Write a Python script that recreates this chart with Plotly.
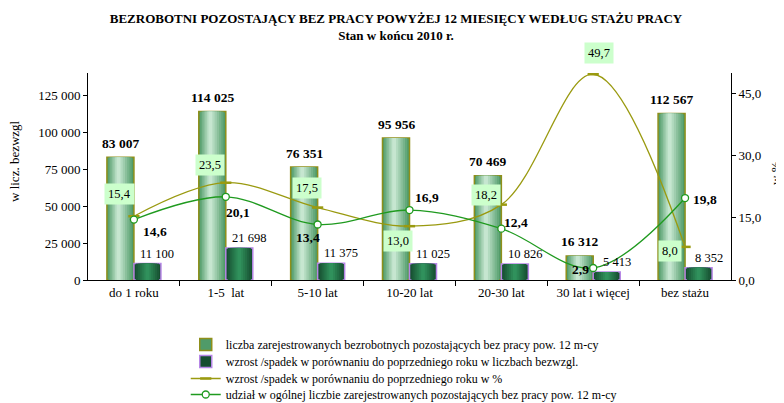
import plotly.graph_objects as go

categories = ["do 1 roku", "1-5  lat", "5-10 lat", "10-20 lat", "20-30 lat", "30 lat i więcej", "bez stażu"]
liczba = [83007, 114025, 76351, 95956, 70469, 16312, 112567]
wzrost_abs = [11100, 21698, 11375, 11025, 10826, 5413, 8352]
wzrost_pct = [15.4, 23.5, 17.5, 13.0, 18.2, 49.7, 8.0]
udzial = [14.6, 20.1, 13.4, 16.9, 12.4, 2.9, 19.8]

left_ticks = [0, 25000, 50000, 75000, 100000, 125000]
left_ticktext = ["0", "25 000", "50 000", "75 000", "100 000", "125 000"]
right_ticks = [0, 15, 30, 45]
right_ticktext = ["0,0", "15,0", "30,0", "45,0"]

names = [
    "liczba zarejestrowanych bezrobotnych pozostających bez pracy pow. 12 m-cy",
    "wzrost /spadek w porównaniu do poprzedniego roku w liczbach bezwzgl.",
    "wzrost /spadek w porównaniu do poprzedniego roku w %",
    "udział w ogólnej liczbie zarejestrowanych pozostających bez pracy pow. 12 m-cy",
]

FONT = "Liberation Serif, Times New Roman, serif"
x = list(range(len(categories)))
W = 0.294

def fmt_int(v):
    return f"{v:,}".replace(",", " ")

def fmt_pct(v):
    return f"{v:.1f}".replace(".", ",")

def mix(c1, c2, t):
    return "rgb(%d,%d,%d)" % tuple(round(a + (b - a) * t) for a, b in zip(c1, c2))

fig = go.Figure()

def gradient_bars(values, left_off, edge, light, outline, name, legend, n=7, hl=0.42):
    for k in range(n):
        frac = 1 - k / n
        w = W * frac
        center = left_off + W * hl + (W * 0.5 - W * hl) * frac
        off = center - w / 2
        fig.add_trace(go.Bar(
            x=x, y=values, width=[w] * len(x), offset=[off] * len(x),
            marker=dict(color=mix(edge, light, k / (n - 1)),
                        line=dict(color=outline if k == 0 else "rgba(0,0,0,0)", width=1.5 if k == 0 else 0)),
            name=name, showlegend=(k == 0), legend=legend,
            hoverinfo="skip",
        ))

gradient_bars(liczba, -W, (80, 155, 105), (198, 230, 208), "#8f8f1a", names[0], "legend")
gradient_bars(wzrost_abs, 0.0, (22, 78, 48), (48, 145, 92), "#b686e6", names[1], "legend2", hl=0.5)

fig.add_trace(go.Scatter(
    x=x, y=wzrost_pct, yaxis="y2", name=names[2], mode="lines+markers",
    line=dict(color="#9a9a10", width=1.3, shape="spline", smoothing=1.0),
    marker=dict(symbol="line-ew", size=8, line=dict(color="#9a9a10", width=2.5)),
    legend="legend3", cliponaxis=False,
))
fig.add_trace(go.Scatter(
    x=x, y=udzial, yaxis="y2", name=names[3], mode="lines+markers",
    line=dict(color="#1f9a1f", width=1.3, shape="spline", smoothing=1.0),
    marker=dict(symbol="circle", size=7, color="white", line=dict(color="#1f9a1f", width=1.3)),
    legend="legend4", cliponaxis=False,
))

ann = []
for i, v in enumerate(liczba):
    ann.append(dict(x=i - W / 2, y=v, xref="x", yref="y", text=f"<b>{fmt_int(v)}</b>",
                    showarrow=False, yshift=14, font=dict(size=13.5, color="black", family=FONT)))
for i, v in enumerate(wzrost_abs):
    ann.append(dict(x=i + W / 2, y=v, xref="x", yref="y", text=fmt_int(v),
                    showarrow=False, yshift=10, xshift=10, font=dict(size=12.5, color="black", family=FONT)))

pct_shift = [(-14, 22), (-16, 18), (-11, 20), (-12, -15), (-15, 10), (6, 21), (-15, -4)]
for i, v in enumerate(wzrost_pct):
    dx, dy = pct_shift[i]
    ann.append(dict(x=i, y=v, xref="x", yref="y2", text=fmt_pct(v), showarrow=False,
                    xshift=dx, yshift=dy, bgcolor="#ccffcc", borderpad=3,
                    font=dict(size=12.5, color="black", family=FONT)))
ud_shift = [(21, -12), (12, -16), (-10, -13), (17, 13), (15, 6), (-13, -2), (20, -1)]
for i, v in enumerate(udzial):
    dx, dy = ud_shift[i]
    ann.append(dict(x=i, y=v, xref="x", yref="y2", text=f"<b>{fmt_pct(v)}</b>", showarrow=False,
                    xshift=dx, yshift=dy, font=dict(size=13.5, color="black", family=FONT)))

ann.append(dict(x=-0.1135, y=0.575, xref="paper", yref="paper", text="w licz. bezwzgl",
                xanchor="center", yanchor="middle",
                textangle=-90, showarrow=False, font=dict(size=13, color="black", family=FONT)))
ann.append(dict(x=1.07, y=0.517, xref="paper", yref="paper", text="w %",
                xanchor="center", yanchor="middle",
                textangle=-90, showarrow=False, font=dict(size=13, color="black", family=FONT)))

leg_common = dict(x=0.152, xanchor="left", yanchor="top", orientation="v",
                  font=dict(size=12, family=FONT, color="black"), bgcolor="rgba(0,0,0,0)")

# page body has an 8px margin, so the figure is 8px smaller and shifted
fig.update_layout(
    width=776, height=395,
    margin=dict(l=80, r=53, t=65, b=123, autoexpand=False),
    paper_bgcolor="white", plot_bgcolor="white",
    font=dict(family=FONT, size=13, color="black"),
    barmode="overlay",
    title=dict(text="<b>BEZROBOTNI POZOSTAJĄCY BEZ PRACY POWYŻEJ 12 MIESIĘCY WEDŁUG STAŻU PRACY</b><br><b>Stan w końcu 2010 r.</b>",
               x=0.5, xanchor="center", y=0.962, yanchor="top",
               font=dict(size=13, family=FONT, color="black")),
    xaxis=dict(range=[-0.5, 6.5], tickvals=x, ticktext=categories, ticks="",
               showline=True, linecolor="black", linewidth=1, showgrid=False, zeroline=False,
               tickfont=dict(size=13, family=FONT),
               minor=dict(tickvals=[0.5, 1.5, 2.5, 3.5, 4.5, 5.5], ticks="outside", ticklen=5,
                          tickcolor="black", showgrid=False)),
    yaxis=dict(range=[0, 140000], tickvals=left_ticks, ticktext=left_ticktext, ticks="outside",
               ticklen=4, tickcolor="black", showline=True, linecolor="black", showgrid=False,
               zeroline=False, tickfont=dict(size=13, family=FONT)),
    yaxis2=dict(range=[0, 50], tickvals=right_ticks, ticktext=right_ticktext, ticks="outside",
                ticklen=4, tickcolor="black", showline=True, linecolor="black", showgrid=False,
                zeroline=False, overlaying="y", side="right", tickfont=dict(size=13, family=FONT)),
    legend=dict(y=-0.2415, **leg_common),
    legend2=dict(y=-0.3237, **leg_common),
    legend3=dict(y=-0.4058, **leg_common),
    legend4=dict(y=-0.4831, **leg_common),
    annotations=ann,
    showlegend=True,
)

fig.write_html("out.html")
